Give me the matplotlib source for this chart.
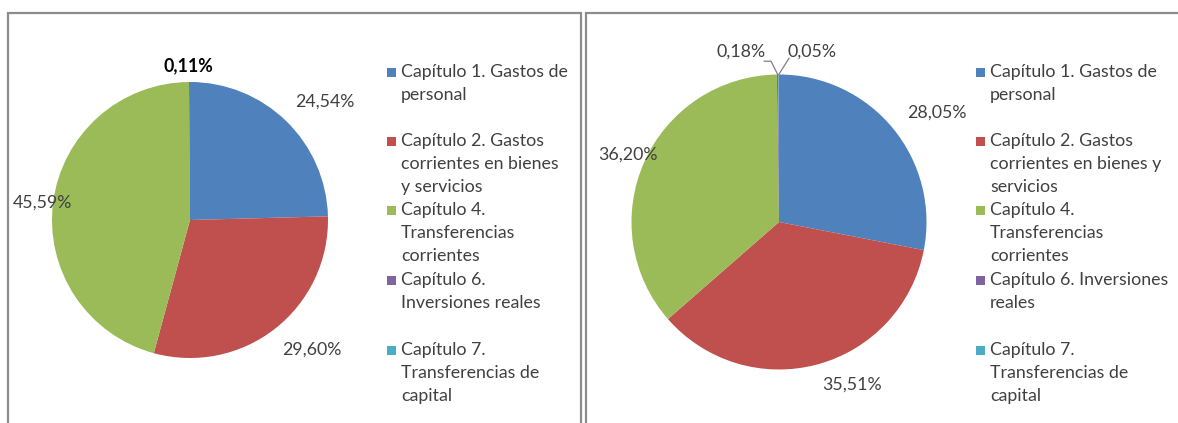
import matplotlib
matplotlib.use("Agg")
import matplotlib.pyplot as plt
from matplotlib.patches import Rectangle
import numpy as np

# ---------------- data ----------------
categories = ["Capítulo 1. Gastos de personal",
              "Capítulo 2. Gastos corrientes en bienes y servicios",
              "Capítulo 4. Transferencias corrientes",
              "Capítulo 6. Inversiones reales",
              "Capítulo 7. Transferencias de capital"]
left_values = [24.54, 29.60, 45.59, 0.11, 0.0]
right_values = [28.05, 35.51, 36.20, 0.18, 0.05]
left_labels = ["24,54%", "29,60%", "45,59%", "0,11%", ""]
right_labels = ["28,05%", "35,51%", "36,20%", "0,18%", "0,05%"]
left_legend = [["Capítulo 1. Gastos de", "personal"],
               ["Capítulo 2. Gastos", "corrientes en bienes", "y servicios"],
               ["Capítulo 4.", "Transferencias", "corrientes"],
               ["Capítulo 6.", "Inversiones reales"],
               ["Capítulo 7.", "Transferencias de", "capital"]]
right_legend = [["Capítulo 1. Gastos de", "personal"],
                ["Capítulo 2. Gastos", "corrientes en bienes y", "servicios"],
                ["Capítulo 4.", "Transferencias", "corrientes"],
                ["Capítulo 6. Inversiones", "reales"],
                ["Capítulo 7.", "Transferencias de", "capital"]]
colors = ["#4F81BD", "#C0504D", "#9BBB59", "#8064A2", "#4BACC6"]

# ---------------- layout ----------------
W, H = 1178, 423
FONT = ["Lato", "DejaVu Sans"]
FS = 12.8
TXT = "#404040"

fig = plt.figure(figsize=(W / 100, H / 100), dpi=100)
fig.patch.set_facecolor("white")


def px_rect(x0, y0, x1, y1):
    return (x0 / W, 1 - y1 / H, (x1 - x0) / W, (y1 - y0) / H)


# panel borders
for (x0, x1) in [(8, 581), (586, 1190)]:
    fig.add_artist(Rectangle((x0 / W, -0.1), (x1 - x0) / W, 1.1 - 13 / H,
                             transform=fig.transFigure, fill=False,
                             edgecolor="#8c8c8c", linewidth=1.6))


def draw_panel(cx, cy, r, values, labels, label_pos, legend, lx, bold_idx=None,
               leaders=None):
    ax = fig.add_axes(px_rect(cx - r, cy - r, cx + r, cy + r))
    wedges, _ = ax.pie(values, colors=colors, startangle=90, counterclock=False,
                       radius=1.0, wedgeprops=dict(linewidth=0))
    ax.set_xlim(-1, 1)
    ax.set_ylim(-1, 1)
    ax.set_aspect("equal")
    ax.axis("off")
    for i, (lab, pos) in enumerate(zip(labels, label_pos)):
        if not lab:
            continue
        ax.text(pos[0], pos[1], lab, ha="center", va="center", fontsize=FS,
                family=FONT, color="#000000" if i == bold_idx else TXT,
                fontweight="bold" if i == bold_idx else "normal")
    if leaders:
        for i, pts in leaders:
            w = wedges[i]
            mid = np.deg2rad((w.theta1 + w.theta2) / 2)
            xs = [np.cos(mid)] + [p[0] for p in pts]
            ys = [np.sin(mid)] + [p[1] for p in pts]
            ax.plot(xs, ys, color="#7f7f7f", lw=0.9, clip_on=False)
    # legend
    rows = [72, 141, 210, 280, 350]
    for i, (lines, y0) in enumerate(zip(legend, rows)):
        fig.add_artist(Rectangle(((lx - 14) / W, 1 - (y0 + 5) / H), 9 / W, 9 / H,
                                 transform=fig.transFigure, facecolor=colors[i],
                                 edgecolor="none"))
        for k, line in enumerate(lines):
            fig.text(lx / W, 1 - (y0 + 23.2 * k) / H, line, ha="left", va="center",
                     fontsize=FS, family=FONT, color=TXT)


draw_panel(190, 220, 138, left_values, left_labels,
           [(0.978, 0.855), (0.884, -0.942), (-1.072, 0.123), (-0.014, 1.116), (0, 0)],
           left_legend, 401, bold_idx=3)

draw_panel(779, 222, 147.5, right_values, right_labels,
           [(1.071, 0.739), (0.495, -1.105), (-1.024, 0.454), (-0.258, 1.153), (0.224, 1.153)],
           right_legend, 990,
           leaders=[(3, [(-0.054, 1.09), (-0.10, 1.09)]), (4, [(0.068, 1.11)])])

fig.savefig("out.png", dpi=100, facecolor="white")
